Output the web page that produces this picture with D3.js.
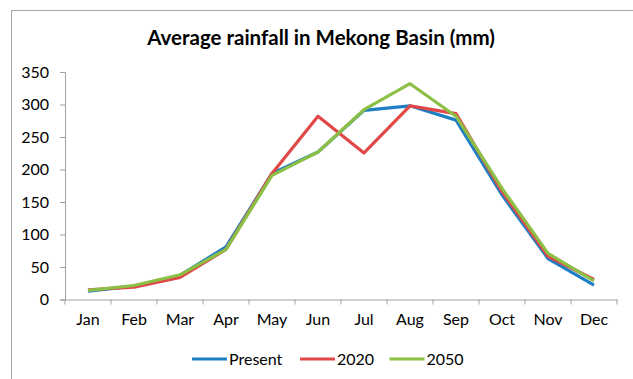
<!DOCTYPE html>
<html><head><meta charset="utf-8">
<script src="https://cdn.jsdelivr.net/npm/d3@7"></script>
<style>body{margin:0;background:#fff;} svg{display:block;}</style>
</head><body>
<svg id="c" width="633" height="379"></svg>
<script>
const months = ["Jan","Feb","Mar","Apr","May","Jun","Jul","Aug","Sep","Oct","Nov","Dec"];
const present = [13, 20.5, 37, 81, 194, 227, 291, 298, 276, 161, 63, 22];
const y2020   = [15, 19, 34, 77, 194, 282, 225.5, 298, 286, 166, 66.6, 30.7];
const y2050   = [14, 21.5, 38, 77, 191, 227, 292, 332, 282, 171, 71, 28.6];
const yTicks  = [0, 50, 100, 150, 200, 250, 300, 350];
const seriesNames = ["Present", "2020", "2050"];
const colors = ["#1f7fc4", "#e04848", "#8cbf45"];

const svg = d3.select("#c");
const font = "Lato, 'Open Sans', sans-serif";

// chart border
svg.append("rect").attr("x", 11.5).attr("y", 10.5).attr("width", 640).attr("height", 400)
  .attr("fill", "#fff").attr("stroke", "#a6a6a6").attr("stroke-width", 1);

const x = d3.scaleBand().domain(months).range([65, 617]);
const y = d3.scaleLinear().domain([0, 350]).range([299.5, 72]);

// title
svg.append("text").attr("x", 321).attr("y", 44.5).attr("text-anchor", "middle")
  .attr("font-family", font).attr("font-weight", "bold").attr("font-size", 20.5)
  .attr("fill", "#000").text("Average rainfall in Mekong Basin (mm)");

// y axis
const yAxis = svg.append("g").attr("transform", "translate(65,0)")
  .call(d3.axisLeft(y).tickValues(yTicks).tickSize(5).tickPadding(11).tickFormat(d3.format("d")));
yAxis.select(".domain").attr("stroke", "#a0a0a0");
yAxis.selectAll(".tick line").attr("stroke", "#a0a0a0");
yAxis.selectAll("text").attr("font-family", font).attr("font-size", 16).attr("fill", "#000");

// x axis
const xAxis = svg.append("g").attr("transform", "translate(0,299.5)")
  .call(d3.axisBottom(x).tickSize(0).tickPadding(14));
xAxis.select(".domain").attr("stroke", "#a0a0a0");
xAxis.selectAll("text").attr("font-family", font).attr("font-size", 16).attr("fill", "#000");
// boundary ticks
const bounds = months.map(m => x(m)).concat([x.range()[1]]);
xAxis.selectAll(".bt").data(bounds).enter().append("line")
  .attr("x1", d => d).attr("x2", d => d).attr("y1", 0).attr("y2", 5)
  .attr("stroke", "#a0a0a0");

// lines
const line = d3.line().x((d, i) => x(months[i]) + x.bandwidth() / 2).y(d => y(d));
[present, y2020, y2050].forEach((s, k) => {
  svg.append("path").datum(s).attr("d", line).attr("fill", "none")
    .attr("stroke", colors[k]).attr("stroke-width", 3.2).attr("stroke-linejoin", "round");
});

// legend
const legX = [192, 300, 389.5];
seriesNames.forEach((n, k) => {
  svg.append("line").attr("x1", legX[k]).attr("x2", legX[k] + 35).attr("y1", 359).attr("y2", 359)
    .attr("stroke", colors[k]).attr("stroke-width", 3.2);
  svg.append("text").attr("x", legX[k] + 37).attr("y", 364.5).attr("font-family", font)
    .attr("font-size", 16).attr("fill", "#000").text(n);
});
</script>
</body></html>
